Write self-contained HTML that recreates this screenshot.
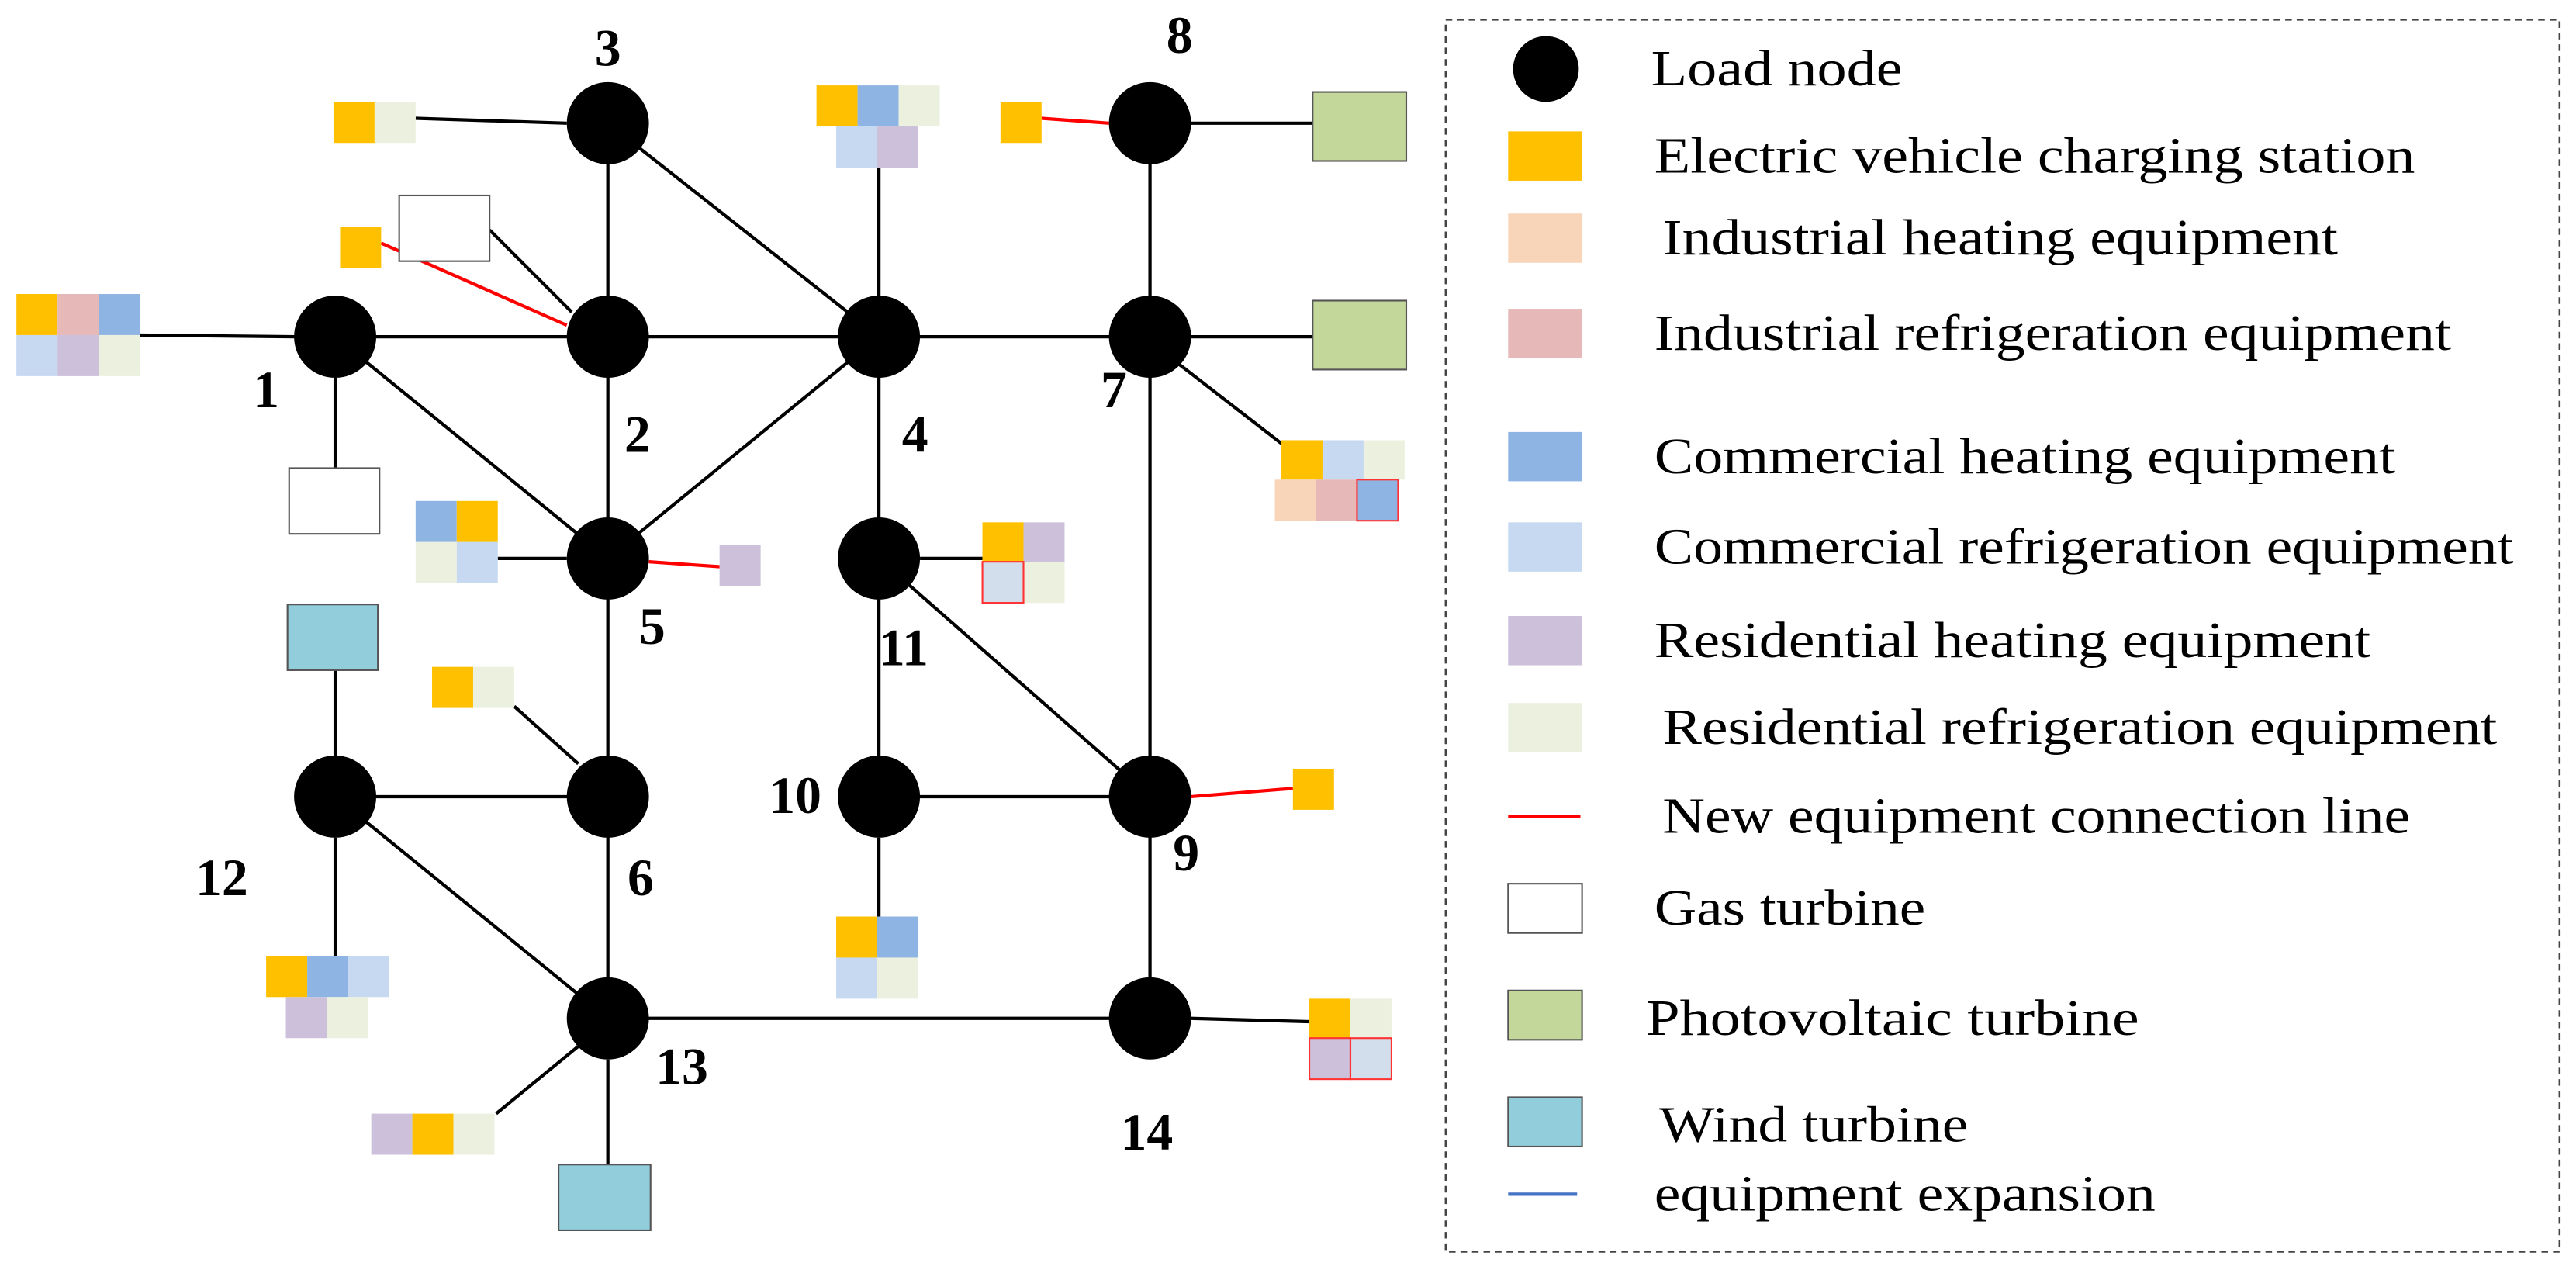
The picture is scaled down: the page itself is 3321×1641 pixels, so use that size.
<!DOCTYPE html>
<html><head><meta charset="utf-8"><style>html,body{margin:0;padding:0;background:#fff}svg{display:block}</style></head><body>
<svg width="3321" height="1641" viewBox="0 0 1568 775" preserveAspectRatio="none" xmlns="http://www.w3.org/2000/svg" font-family="Liberation Serif, serif">
<g stroke="#000" stroke-width="2">
<line x1="204" y1="205" x2="700" y2="205"/>
<line x1="370" y1="75" x2="370" y2="620"/>
<line x1="370" y1="75" x2="535" y2="205"/>
<line x1="204" y1="205" x2="370" y2="340"/>
<line x1="370" y1="340" x2="535" y2="205"/>
<line x1="535" y1="205" x2="535" y2="485"/>
<line x1="535" y1="340" x2="700" y2="485"/>
<line x1="535" y1="485" x2="700" y2="485"/>
<line x1="700" y1="75" x2="700" y2="620"/>
<line x1="204" y1="485" x2="370" y2="485"/>
<line x1="204" y1="485" x2="370" y2="620"/>
<line x1="370" y1="620" x2="700" y2="620"/>
<line x1="253" y1="72" x2="345" y2="75"/>
<line x1="298" y1="140" x2="348" y2="190"/>
<line x1="85" y1="204" x2="180" y2="205"/>
<line x1="204" y1="230" x2="204" y2="285"/>
<line x1="535" y1="102" x2="535" y2="180"/>
<line x1="725" y1="75" x2="799" y2="75"/>
<line x1="725" y1="205" x2="799" y2="205"/>
<line x1="718" y1="222" x2="780" y2="270"/>
<line x1="303" y1="340" x2="345" y2="340"/>
<line x1="560" y1="340" x2="598" y2="340"/>
<line x1="204" y1="408" x2="204" y2="460"/>
<line x1="313" y1="430" x2="352" y2="465"/>
<line x1="535" y1="510" x2="535" y2="558"/>
<line x1="204" y1="510" x2="204" y2="582"/>
<line x1="352" y1="637" x2="302" y2="678"/>
<line x1="370" y1="645" x2="370" y2="709"/>
<line x1="725" y1="620" x2="797" y2="622"/>
</g>
<g stroke="#f00" stroke-width="2">
<line x1="232" y1="148" x2="345" y2="198"/>
<line x1="634" y1="72" x2="675" y2="75"/>
<line x1="395" y1="342" x2="438" y2="345"/>
<line x1="725" y1="485" x2="787" y2="480"/>
</g>
<g fill="#000">
<circle cx="204" cy="205" r="25"/><circle cx="370" cy="205" r="25"/><circle cx="370" cy="75" r="25"/>
<circle cx="535" cy="205" r="25"/><circle cx="370" cy="340" r="25"/><circle cx="370" cy="485" r="25"/>
<circle cx="700" cy="205" r="25"/><circle cx="700" cy="75" r="25"/><circle cx="700" cy="485" r="25"/>
<circle cx="535" cy="485" r="25"/><circle cx="535" cy="340" r="25"/><circle cx="204" cy="485" r="25"/>
<circle cx="370" cy="620" r="25"/><circle cx="700" cy="620" r="25"/>
</g>
<g font-weight="bold" font-size="32" text-anchor="middle">
<text x="370" y="40">3</text><text x="162" y="248">1</text><text x="388" y="275">2</text>
<text x="557" y="275">4</text><text x="397" y="392">5</text><text x="390" y="545">6</text>
<text x="678" y="248">7</text><text x="718" y="32">8</text><text x="722" y="530">9</text>
<text x="484" y="495">10</text><text x="550" y="405">11</text><text x="135" y="545">12</text>
<text x="415" y="660">13</text><text x="698" y="700">14</text>
</g>
<g stroke="none">
<rect x="203" y="62" width="25" height="25" fill="#FFC000"/><rect x="228" y="62" width="25" height="25" fill="#EBF1DE"/>
<rect x="207" y="138" width="25" height="25" fill="#FFC000"/>
<rect x="10" y="179" width="25" height="25" fill="#FFC000"/><rect x="35" y="179" width="25" height="25" fill="#E6B8B7"/><rect x="60" y="179" width="25" height="25" fill="#8EB4E3"/>
<rect x="10" y="204" width="25" height="25" fill="#C6D9F1"/><rect x="35" y="204" width="25" height="25" fill="#CCC0DA"/><rect x="60" y="204" width="25" height="25" fill="#EBF1DE"/>
<rect x="497" y="52" width="25" height="25" fill="#FFC000"/><rect x="522" y="52" width="25" height="25" fill="#8EB4E3"/><rect x="547" y="52" width="25" height="25" fill="#EBF1DE"/>
<rect x="509" y="77" width="25" height="25" fill="#C6D9F1"/><rect x="534" y="77" width="25" height="25" fill="#CCC0DA"/>
<rect x="609" y="62" width="25" height="25" fill="#FFC000"/>
<rect x="780" y="268" width="25" height="24" fill="#FFC000"/><rect x="805" y="268" width="25" height="24" fill="#C6D9F1"/><rect x="830" y="268" width="25" height="24" fill="#EBF1DE"/>
<rect x="776" y="292" width="25" height="25" fill="#F8D5B8"/><rect x="801" y="292" width="25" height="25" fill="#E6B8B7"/>
<rect x="253" y="305" width="25" height="25" fill="#8EB4E3"/><rect x="278" y="305" width="25" height="25" fill="#FFC000"/>
<rect x="253" y="330" width="25" height="25" fill="#EBF1DE"/><rect x="278" y="330" width="25" height="25" fill="#C6D9F1"/>
<rect x="438" y="332" width="25" height="25" fill="#CCC0DA"/>
<rect x="598" y="318" width="25" height="24" fill="#FFC000"/><rect x="623" y="318" width="25" height="24" fill="#CCC0DA"/>
<rect x="623" y="342" width="25" height="25" fill="#EBF1DE"/>
<rect x="263" y="406" width="25" height="25" fill="#FFC000"/><rect x="288" y="406" width="25" height="25" fill="#EBF1DE"/>
<rect x="787" y="468" width="25" height="25" fill="#FFC000"/>
<rect x="509" y="558" width="25" height="25" fill="#FFC000"/><rect x="534" y="558" width="25" height="25" fill="#8EB4E3"/>
<rect x="509" y="583" width="25" height="25" fill="#C6D9F1"/><rect x="534" y="583" width="25" height="25" fill="#EBF1DE"/>
<rect x="162" y="582" width="25" height="25" fill="#FFC000"/><rect x="187" y="582" width="25" height="25" fill="#8EB4E3"/><rect x="212" y="582" width="25" height="25" fill="#C6D9F1"/>
<rect x="174" y="607" width="25" height="25" fill="#CCC0DA"/><rect x="199" y="607" width="25" height="25" fill="#EBF1DE"/>
<rect x="226" y="678" width="25" height="25" fill="#CCC0DA"/><rect x="251" y="678" width="25" height="25" fill="#FFC000"/><rect x="276" y="678" width="25" height="25" fill="#EBF1DE"/>
<rect x="797" y="608" width="25" height="24" fill="#FFC000"/><rect x="822" y="608" width="25" height="24" fill="#EBF1DE"/>
</g>
<g stroke="#f33" stroke-width="1">
<rect x="826" y="292" width="25" height="25" fill="#8EB4E3"/>
<rect x="598" y="342" width="25" height="25" fill="#D3DEEC"/>
<rect x="797" y="632" width="25" height="25" fill="#CCC0DA"/>
<rect x="822" y="632" width="25" height="25" fill="#D3DEEC"/>
</g>
<g stroke="#555" stroke-width="1">
<rect x="243" y="119" width="55" height="40" fill="#fff"/>
<rect x="176" y="285" width="55" height="40" fill="#fff"/>
<rect x="799" y="56" width="57" height="42" fill="#C4D79B"/>
<rect x="799" y="183" width="57" height="42" fill="#C4D79B"/>
<rect x="175" y="368" width="55" height="40" fill="#92CDDC"/>
<rect x="340" y="709" width="56" height="40" fill="#92CDDC"/>
</g>
<rect x="880" y="12" width="678" height="750" fill="none" stroke="#444" stroke-width="1.2" stroke-dasharray="4,3"/>
<circle cx="941" cy="42" r="20" fill="#000"/>
<rect x="918" y="80" width="45" height="30" fill="#FFC000"/>
<rect x="918" y="130" width="45" height="30" fill="#F8D5B8"/>
<rect x="918" y="188" width="45" height="30" fill="#E6B8B7"/>
<rect x="918" y="263" width="45" height="30" fill="#8EB4E3"/>
<rect x="918" y="318" width="45" height="30" fill="#C6D9F1"/>
<rect x="918" y="375" width="45" height="30" fill="#CCC0DA"/>
<rect x="918" y="428" width="45" height="30" fill="#EBF1DE"/>
<line x1="918" y1="497" x2="962" y2="497" stroke="#f00" stroke-width="2"/>
<rect x="918" y="538" width="45" height="30" fill="#fff" stroke="#555"/>
<rect x="918" y="603" width="45" height="30" fill="#C4D79B" stroke="#555"/>
<rect x="918" y="668" width="45" height="30" fill="#92CDDC" stroke="#555"/>
<line x1="918" y1="727" x2="960" y2="727" stroke="#4472C4" stroke-width="2"/>
<g font-size="31" fill="#000" lengthAdjust="spacingAndGlyphs">
<text x="1005" y="52" textLength="153" lengthAdjust="spacingAndGlyphs">Load node</text>
<text x="1007" y="105" textLength="463" lengthAdjust="spacingAndGlyphs">Electric vehicle charging station</text>
<text x="1012" y="155" textLength="411" lengthAdjust="spacingAndGlyphs">Industrial heating equipment</text>
<text x="1007" y="213" textLength="485" lengthAdjust="spacingAndGlyphs">Industrial refrigeration equipment</text>
<text x="1007" y="288" textLength="451" lengthAdjust="spacingAndGlyphs">Commercial heating equipment</text>
<text x="1007" y="343" textLength="523" lengthAdjust="spacingAndGlyphs">Commercial refrigeration equipment</text>
<text x="1007" y="400" textLength="436" lengthAdjust="spacingAndGlyphs">Residential heating equipment</text>
<text x="1012" y="453" textLength="508" lengthAdjust="spacingAndGlyphs">Residential refrigeration equipment</text>
<text x="1012" y="507" textLength="455" lengthAdjust="spacingAndGlyphs">New equipment connection line</text>
<text x="1007" y="563" textLength="165" lengthAdjust="spacingAndGlyphs">Gas turbine</text>
<text x="1002" y="630" textLength="300" lengthAdjust="spacingAndGlyphs">Photovoltaic  turbine</text>
<text x="1010" y="695" textLength="188" lengthAdjust="spacingAndGlyphs">Wind turbine</text>
<text x="1007" y="737" textLength="305" lengthAdjust="spacingAndGlyphs">equipment expansion</text>
</g>
</svg>
</body></html>
